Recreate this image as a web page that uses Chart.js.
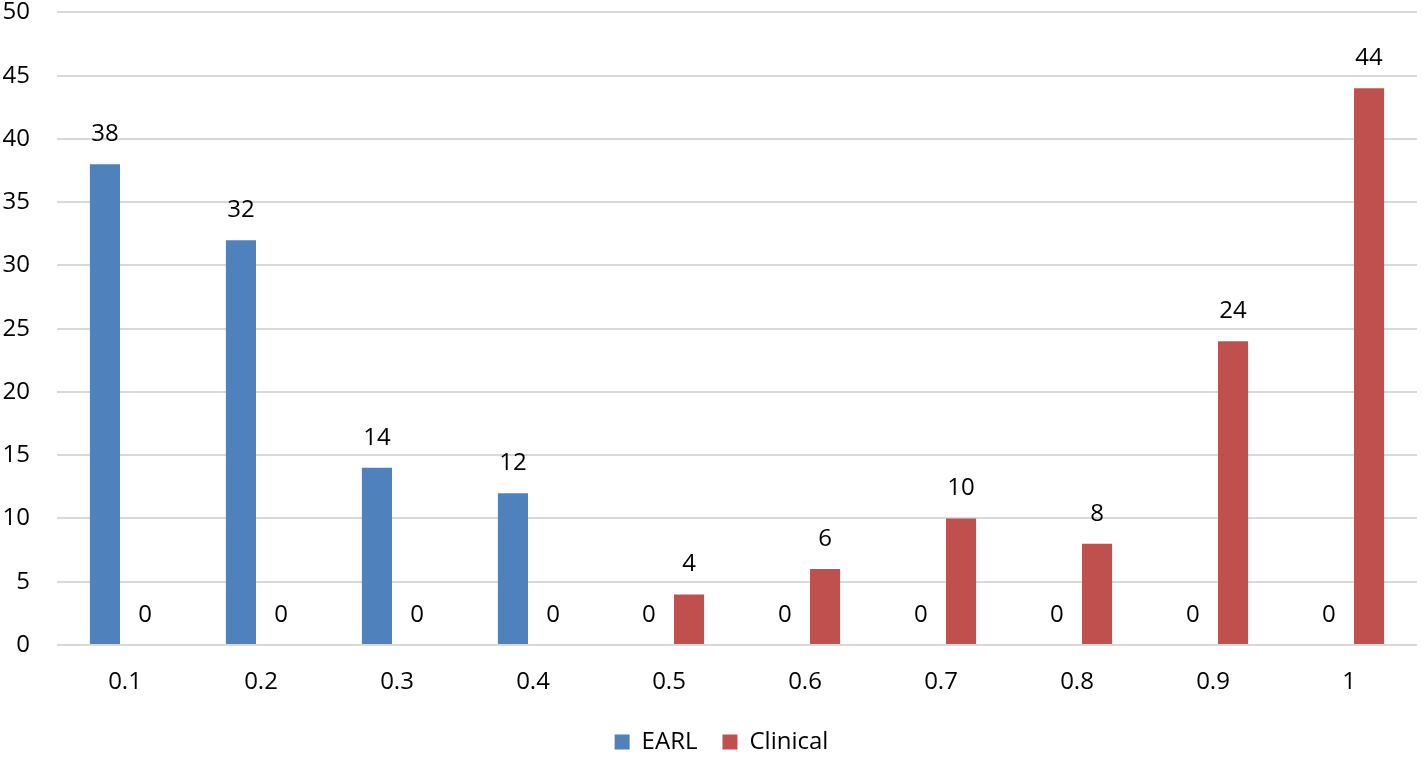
<!DOCTYPE html>
<html>
<head>
<meta charset="utf-8">
<script src="https://cdn.jsdelivr.net/npm/chart.js@4/dist/chart.umd.min.js"></script>
<style>
  html, body { margin: 0; padding: 0; background: #fff; overflow: hidden; }
  #wrap { position: relative; top: -29px; width: 1424px; height: 789px; }
</style>
</head>
<body>
<div id="wrap"><canvas id="chart"></canvas></div>
<script>
const categories = ['0.1', '0.2', '0.3', '0.4', '0.5', '0.6', '0.7', '0.8', '0.9', '1'];
const earl = [38, 32, 14, 12, 0, 0, 0, 0, 0, 0];
const clinical = [0, 0, 0, 0, 4, 6, 10, 8, 24, 44];

const FONT = '"Open Sans", "Noto Sans", sans-serif';
const SIZE = 24;

// draws the value above every bar, zeros included
const valueLabels = {
  id: 'valueLabels',
  afterDatasetsDraw(chart) {
    const ctx = chart.ctx;
    ctx.save();
    ctx.font = SIZE + 'px ' + FONT;
    ctx.fillStyle = '#000';
    ctx.textAlign = 'center';
    ctx.textBaseline = 'middle';
    chart.data.datasets.forEach((ds, i) => {
      chart.getDatasetMeta(i).data.forEach((bar, j) => {
        ctx.fillText(String(ds.data[j]), bar.x, bar.y - 30);
      });
    });
    ctx.restore();
  }
};

// nudge the legend a bit to the right, like the original
const legendShift = {
  id: 'legendShift',
  afterLayout(chart) {
    if (chart.legend) {
      chart.legend.left += 13;
      chart.legend.right += 13;
    }
  }
};

new Chart(document.getElementById('chart'), {
  type: 'bar',
  data: {
    labels: categories,
    datasets: [
      { label: 'EARL', data: earl, backgroundColor: '#4F81BD' },
      { label: 'Clinical', data: clinical, backgroundColor: '#C0504D' }
    ]
  },
  options: {
    responsive: true,
    maintainAspectRatio: false,
    animation: false,
    datasets: {
      bar: { categoryPercentage: 0.59, barPercentage: 0.75 }
    },
    layout: { padding: { top: 0, right: 7, bottom: -4, left: 0 } },
    scales: {
      x: {
        grid: { display: false },
        border: { display: false },
        ticks: { color: '#000', font: { family: FONT, size: SIZE }, padding: 15 },
        afterFit(scale) { scale.height = 60; }
      },
      y: {
        min: 0,
        max: 50,
        ticks: { stepSize: 5, color: '#000', font: { family: FONT, size: SIZE }, padding: 27 },
        grid: { color: '#d9d9d9', lineWidth: 2, drawTicks: false },
        border: { display: false },
        afterFit(scale) { scale.width = 57; }
      }
    },
    plugins: {
      legend: {
        position: 'bottom',
        labels: {
          color: '#000',
          font: { family: FONT, size: SIZE },
          boxWidth: 15,
          boxHeight: 15,
          padding: 25
        }
      },
      tooltip: { enabled: false }
    }
  },
  plugins: [valueLabels, legendShift]
});
</script>
</body>
</html>
